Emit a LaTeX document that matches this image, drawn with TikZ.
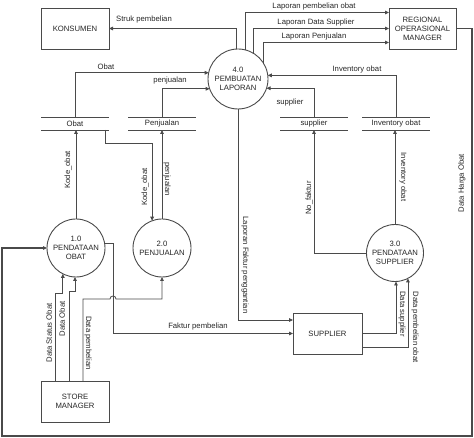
\documentclass[tikz,border=0pt]{standalone}
\usepackage{fontspec}
\setmainfont{Liberation Sans}
\usetikzlibrary{arrows.meta}
\definecolor{ln}{HTML}{4a4a4a}
\definecolor{tx}{HTML}{262626}
\begin{document}
\begin{tikzpicture}[x=1pt,y=-1pt,
  every node/.style={font=\fontsize{7.7}{9}\selectfont, text=tx},
  flow/.style={draw=ln, line width=0.8pt, -{Triangle[length=4pt,width=3.6pt]}},
  entity/.style={draw=ln, line width=0.9pt, rectangle, minimum width=68pt, minimum height=41pt, align=center, inner sep=0pt, outer sep=0pt},
  proc/.style={draw=ln, line width=0.9pt, circle, minimum size=#1, inner sep=0pt, outer sep=0pt, align=center},
  proc/.default=58pt,
  dstore/.style={rectangle, minimum width=68pt, minimum height=13pt, inner sep=0pt, outer sep=0pt},
  storeline/.style={draw=ln, line width=0.9pt},
  lbl/.style={inner sep=0pt}]
\useasboundingbox (0,0) rectangle (474,438);

% entities
\node[entity] (kons) at (75,28.5) {KONSUMEN};
\node[entity, minimum width=67pt] (rom) at (422.5,28.5) {REGIONAL\\OPERASIONAL\\MANAGER};
\node[entity, minimum width=69pt] (sup) at (327.5,333.5) {SUPPLIER};
\node[entity] (sm) at (75,401.5) {STORE\\MANAGER};

% processes
\node[proc=60pt] (c4) at (238,79) {4.0\\PEMBUATAN\\LAPORAN};
\node[proc] (c1) at (76,248) {1.0\\PENDATAAN\\OBAT};
\node[proc] (c2) at (162,248) {2.0\\PENJUALAN};
\node[proc=57pt] (c3) at (395,253) {3.0\\PENDATAAN\\SUPPLIER};

% data stores
\node[dstore] (so) at (75,123.5) {Obat};
\node[dstore] (sp) at (162,123.5) {Penjualan};
\node[dstore] (ss) at (314,123.5) {supplier};
\node[dstore] (si) at (396,123.5) {Inventory obat};
\foreach \s in {so,sp,ss,si}{
  \draw[storeline] (\s.north west) -- (\s.north east);
  \draw[storeline] (\s.south west) -- (\s.south east);
}

% flows from 4.0
\draw[flow] (c4.93.8) |- (kons.east);
\draw[flow] (c4.76.5) |- (rom.west |- 0,12.5);
\draw[flow] (c4.60) |- (rom.west);
\draw[flow] (c4.33.6) |- (rom.west |- 0,42.5);
\draw[flow] (c4.south) |- ([yshift=13.5pt]sup.west);

% into 4.0
\draw[flow] (so.north) |- (c4.168.5);
\draw[flow] (sp.north) |- (c4.199.5);
\draw[flow] (ss.north) |- (c4.342.5);
\draw[flow] (si.north) |- (c4.7.7);

% stores and processes
\draw[flow] (c1.north) -- (c1.north |- so.south);
\draw[flow] ([xshift=-4pt]so.south east) -- ++(0,13) -| (c2.110.2);
\draw[flow] (c2.north) -- (sp.south);
\draw[flow] (c3.west) -| (ss.south);
\draw[flow] (c3.north) -- (c3.north |- si.south);

% 1.0 -> supplier
\draw[flow] (c1.9.9) -- ++(9,0) |- (sup.west);

% store manager flows
\draw[flow] ([xshift=8pt]sm.north) -- ++(0,-82) -- (110,299) arc[start angle=180,end angle=0,radius=3pt] -| (c2.south);
\draw[flow] ([xshift=-20pt]sm.north) -- ++(0,-88) -| (c1.243.4);
\draw[flow] ([xshift=-6pt]sm.north) -- ++(0,-90) -| (c1.268);

% supplier -> 3.0
\draw[flow] (sup.east) -| (c3.272);
\draw[flow] ([yshift=-13.5pt]sup.east) -| (c3.297.1);

% Data Harga Obat
\draw[flow, line width=1.2pt] (rom.east) -| (472,436) -| (2,248) -- (c1.west);

% labels
\node[lbl] (l1) at (144,20) {Struk pembelian};
\node[lbl] (l2) at (314,6.5) {Laporan pembelian obat};
\node[lbl] (l3) at (316,22.5) {Laporan Data Supplier};
\node[lbl] (l4) at (314,37) {Laporan Penjualan};
\node[lbl] (l5) at (357,70) {Inventory obat};
\node[lbl] (l6) at (290,103) {supplier};
\node[lbl] (l7) at (106,67) {Obat};
\node[lbl] (l8) at (170,81) {penjualan};
\node[lbl, rotate=90] (l9) at (68,170) {Kode\_obat};
\node[lbl, rotate=90] (l10) at (145,187) {Kode\_obat};
\node[lbl, rotate=-90] (l11) at (167,179) {penjualan};
\node[lbl, rotate=90] (l12) at (309,198) {No\_faktur};
\node[lbl, rotate=-90] (l13) at (403,177) {Inventory obat};
\node[lbl, rotate=90] (l14) at (462,183) {Data Harga Obat};
\node[lbl, rotate=-90] (l15) at (245,265) {Laporan Faktur penggantian};
\node[lbl] (l16) at (198,327) {Faktur pembelian};
\node[lbl, rotate=90] (l17) at (49,333) {Data Status Obat};
\node[lbl, rotate=90] (l18) at (62,319) {Data Obat};
\node[lbl, rotate=-90] (l19) at (88,343) {Data pembelian};
\node[lbl, rotate=-90] (l20) at (402,314) {Data supplier};
\node[lbl, rotate=-90] (l21) at (415,327) {Data pembelian obat};
\end{tikzpicture}
\end{document}
